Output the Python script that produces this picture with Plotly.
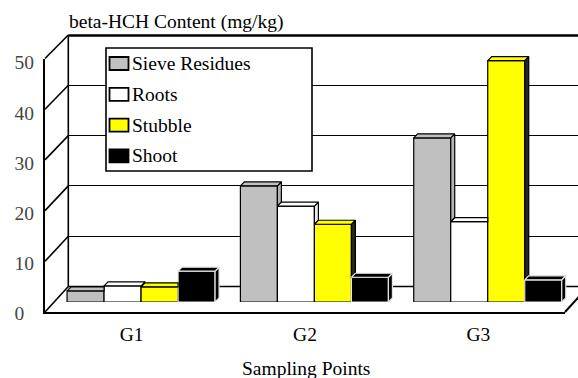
import plotly.graph_objects as go

# ---- data -------------------------------------------------------------
CATEGORIES = ["G1", "G2", "G3"]
SERIES = ["Sieve Residues", "Roots", "Stubble", "Shoot"]
SIEVE_RESIDUES = [2.2, 23.0, 32.5]
ROOTS = [3.2, 19.0, 15.9]
STUBBLE = [3.0, 15.4, 47.8]
SHOOT = [6.1, 4.9, 4.4]
Y_TICKS = [0, 10, 20, 30, 40, 50]
Y_TITLE = "beta-HCH Content (mg/kg)"
X_TITLE = "Sampling Points"

VALUES = [SIEVE_RESIDUES, ROOTS, STUBBLE, SHOOT]

# ---- styling ----------------------------------------------------------
FRONT_COLORS = ["#C0C0C0", "#FFFFFF", "#FFFF00", "#000000"]
SIDE_COLORS = ["#B4B4B4", "#EBEBEB", "#262626", "#000000"]
EDGE_COLORS = ["#000000", "#000000", "#000000", "#E6E6E6"]
FONT = "'Liberation Serif', 'Times New Roman', 'DejaVu Serif', serif"
FS = 19.5

W, H = 578, 378


def px(x):
    return x / W


def py(y):
    return 1 - y / H


# oblique box geometry (pixels)
FRONT_L, FRONT_R, FRONT_Y0, FRONT_Y50 = 45, 565, 312, 58.5
BACK_L, BACK_Y0, BACK_Y50 = 68.3, 286.5, 35
BAR_SHIFT = 9.4                 # bars stand 40% of the way into the box
BAR_Y0, BAR_PX_PER_UNIT = 302, 5.05
FACE_PX = 4                     # depth of each bar's own top/side faces
BARGAP = 0.146

# bar-plane axis units per pixel
XU = 3 / (FRONT_R - FRONT_L)
YU = 1 / BAR_PX_PER_UNIT
DXU, DYU = FACE_PX * XU, FACE_PX * YU
BAR_W = (1 - BARGAP) / len(SERIES)

fig = go.Figure()

# empty traces so that every axis pair becomes a drawn subplot
for xa, ya in (("x", "y"), ("x3", "y3"), ("x3", "y4")):
    fig.add_trace(go.Scatter(x=[], y=[], xaxis=xa, yaxis=ya, showlegend=False,
                             hoverinfo="skip"))

# front faces: regular grouped bars
for s, name in enumerate(SERIES):
    fig.add_trace(go.Bar(
        x=list(range(len(CATEGORIES))), y=VALUES[s], name=name,
        hovertext=CATEGORIES, marker=dict(color=FRONT_COLORS[s],
                                          line=dict(color=EDGE_COLORS[s], width=1.2)),
        xaxis="x2", yaxis="y2", showlegend=False))

# top and side faces, trimmed where the neighbouring bar hides them
for s, name in enumerate(SERIES):
    tx, ty, sx, sy = [], [], [], []
    for g in range(len(CATEGORIES)):
        v = VALUES[s][g]
        x0 = g - 2 * BAR_W + s * BAR_W
        x1 = x0 + BAR_W
        nxt = VALUES[s + 1][g] if s + 1 < len(SERIES) else None
        if nxt is not None and nxt > v:
            top = [(x0, v), (x1, v), (x1, v + DYU), (x0 + DXU, v + DYU)]
        else:
            top = [(x0, v), (x1, v), (x1 + DXU, v + DYU), (x0 + DXU, v + DYU)]
        for a, b in top + [top[0]]:
            tx.append(a); ty.append(b)
        tx.append(None); ty.append(None)
        low = 0 if nxt is None else nxt
        if low < v:
            side = [(x1, low), (x1, v), (x1 + DXU, v + DYU), (x1 + DXU, low + DYU)]
            for a, b in side + [side[0]]:
                sx.append(a); sy.append(b)
            sx.append(None); sy.append(None)
    for xs, ys, col in ((sx, sy, SIDE_COLORS[s]), (tx, ty, FRONT_COLORS[s])):
        if xs:
            fig.add_trace(go.Scatter(
                x=xs, y=ys, mode="lines", fill="toself", fillcolor=col,
                line=dict(color=EDGE_COLORS[s], width=1.2), hoverinfo="skip",
                xaxis="x2", yaxis="y2", showlegend=False))

# ---- frame of the 3-D box --------------------------------------------
shapes = []


def seg(x0, y0, x1, y1, w=1.4, layer="below"):
    shapes.append(dict(type="line", xref="paper", yref="paper",
                       x0=px(x0), y0=py(y0), x1=px(x1), y1=py(y1),
                       line=dict(color="black", width=w), layer=layer))


front_scale = (FRONT_Y0 - FRONT_Y50) / 50
back_scale = (BACK_Y0 - BACK_Y50) / 50
for v in Y_TICKS:
    seg(FRONT_L, FRONT_Y0 - v * front_scale, BACK_L, BACK_Y0 - v * back_scale, 1.6)
seg(BACK_L, BACK_Y50, BACK_L, BACK_Y0, 1.6)
seg(BACK_L, BACK_Y50 + 0.5, W + 5, BACK_Y50 + 0.5, 2.6)
seg(BACK_L, BACK_Y0, W + 5, BACK_Y0, 1.4)
seg(FRONT_R, FRONT_Y0, FRONT_R + (BACK_L - FRONT_L), BACK_Y0, 2)

# ---- legend box --------------------------------------------------------
LEG = (106, 48, 312, 171)
shapes.append(dict(type="rect", xref="paper", yref="paper",
                   x0=px(LEG[0]), y0=py(LEG[1]), x1=px(LEG[2]), y1=py(LEG[3]),
                   fillcolor="white", line=dict(color="black", width=1.6), layer="above"))
annotations = []
for i, name in enumerate(SERIES):
    cy = 63.5 + i * 30.8
    shapes.append(dict(type="rect", xref="paper", yref="paper",
                       x0=px(109.5), x1=px(128.5), y0=py(cy - 6.5), y1=py(cy + 6.5),
                       fillcolor=FRONT_COLORS[i], line=dict(color="black", width=1.8),
                       layer="above"))
    annotations.append(dict(text=name, xref="paper", yref="paper", x=px(129.5), y=py(cy),
                            xanchor="left", yanchor="middle", showarrow=False,
                            font=dict(family=FONT, size=FS, color="black")))

annotations.append(dict(text=Y_TITLE, xref="paper", yref="paper", x=px(67), y=py(22),
                        xanchor="left", yanchor="middle", showarrow=False,
                        font=dict(family=FONT, size=FS, color="black")))
annotations.append(dict(text=X_TITLE, xref="paper", yref="paper", x=px(306), y=py(368),
                        xanchor="center", yanchor="middle", showarrow=False,
                        font=dict(family=FONT, size=FS, color="black")))

# tick-label axis geometry (labels sit a little below the wall lines)
LAB_Y0, LAB_Y50 = 313.5, 62.5
lab_scale = (LAB_Y0 - LAB_Y50) / 50
LAB_BOT, LAB_TOP = 340, 45
lab_range = [-(LAB_BOT - LAB_Y0) / lab_scale, 50 + (LAB_Y50 - LAB_TOP) / lab_scale]

hidden = dict(showgrid=False, zeroline=False, showticklabels=False, ticks="", showline=False)

fig.update_layout(
    width=W, height=H, margin=dict(l=0, r=0, t=0, b=0),
    paper_bgcolor="white", plot_bgcolor="rgba(0,0,0,0)",
    font=dict(family=FONT, size=FS, color="black"),
    barmode="group", bargap=BARGAP, bargroupgap=0,
    showlegend=False, shapes=shapes, annotations=annotations,
    # back wall with its gridlines
    xaxis=dict(domain=[px(BACK_L), 1], range=[0, 1], anchor="y", **hidden),
    yaxis=dict(domain=[py(BACK_Y0), py(BACK_Y50)], range=[0, 50], anchor="x",
               tickvals=Y_TICKS, showgrid=True, gridcolor="black", gridwidth=1.3,
               zeroline=False, showticklabels=False, ticks="", showline=False),
    # plane the bars stand on
    xaxis2=dict(domain=[px(FRONT_L + BAR_SHIFT), px(FRONT_R + BAR_SHIFT)],
                range=[-0.5, len(CATEGORIES) - 0.5], anchor="y2", **hidden),
    yaxis2=dict(domain=[py(BAR_Y0), py(BAR_Y0 - 50 * BAR_PX_PER_UNIT)], range=[0, 50],
                anchor="x2", **hidden),
    # front edge of the floor and front-left wall edge, category labels
    xaxis3=dict(domain=[px(FRONT_L), px(FRONT_R)], range=[-0.5, len(CATEGORIES) - 0.5],
                anchor="y3", tickvals=list(range(len(CATEGORIES))), ticktext=CATEGORIES,
                showline=True, linecolor="black", linewidth=2.2, ticks="",
                showgrid=False, zeroline=False, ticklabelstandoff=3),
    yaxis3=dict(domain=[py(FRONT_Y0), py(FRONT_Y50)], range=[0, 50], anchor="x3",
                showline=True, linecolor="black", linewidth=2, showticklabels=False,
                ticks="", showgrid=False, zeroline=False),
    # value labels, left aligned at the left margin
    yaxis4=dict(domain=[py(LAB_BOT), py(LAB_TOP)], range=lab_range, anchor="free",
                position=px(10.5), tickvals=Y_TICKS, ticklabelposition="inside",
                ticks="", showline=False, showgrid=False, zeroline=False),
)

fig.write_html("out.html")
